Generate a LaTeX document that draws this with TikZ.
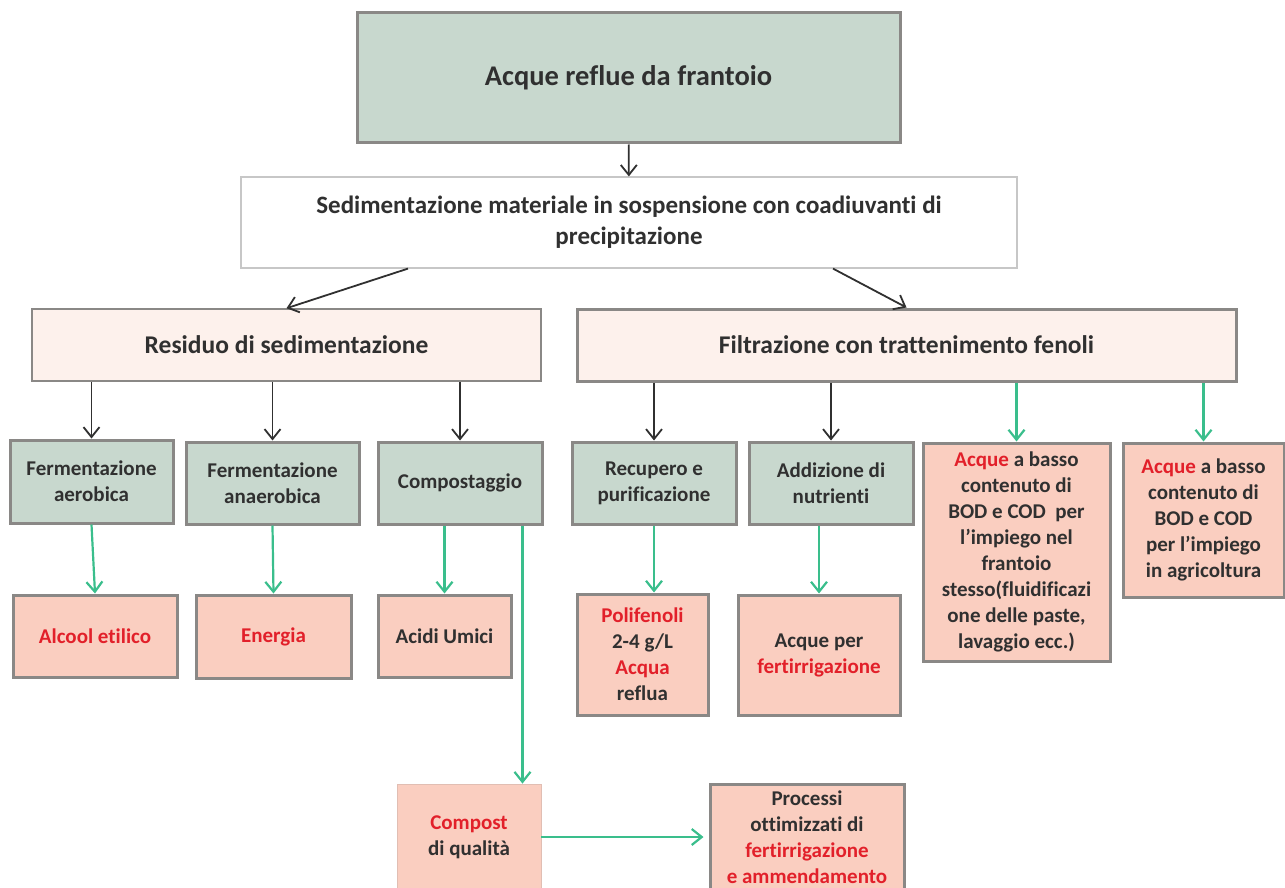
\documentclass[tikz,border=0pt]{standalone}
\usepackage{fontspec}
\setmainfont{Carlito}[Ligatures=NoCommon]
\usepackage{xcolor}
\usetikzlibrary{arrows.meta}

\definecolor{boxgreen}{RGB}{200,216,206}
\definecolor{boxpink}{RGB}{250,206,192}
\definecolor{boxcream}{RGB}{253,241,236}
\definecolor{edgegray}{RGB}{138,136,134}
\definecolor{txtdark}{RGB}{48,48,48}
\definecolor{txtred}{RGB}{226,32,42}
\definecolor{arrgreen}{RGB}{58,190,140}
\newcommand{\rd}[1]{\textcolor{txtred}{#1}}

\begin{document}
\begin{tikzpicture}[x=1pt, y=-1pt,
  every node/.style={inner sep=0pt, align=center, text=txtdark, font=\bfseries\fontsize{21}{26}\selectfont},
  topbox/.style={draw=edgegray, line width=3pt, fill=boxgreen},
  sedbox/.style={draw=black!22, line width=1.2pt, fill=white},
  headbox/.style={draw=edgegray, fill=boxcream, font=\bfseries\fontsize{25.5}{30}\selectfont},
  procbox/.style={draw=edgegray, line width=3pt, fill=boxgreen},
  prodbox/.style={draw=edgegray, line width=3pt, fill=boxpink},
  arr/.style={-{Straight Barb[length=10pt,width=16pt]}, line width=1.8pt, draw=txtdark},
  garr/.style={-{Straight Barb[length=10pt,width=16pt]}, line width=2.2pt, draw=arrgreen}
]
\useasboundingbox (0,0) rectangle (1285,888);
\clip (0,0) rectangle (1285,888);

\node[topbox, minimum width=543pt, minimum height=130pt, font=\bfseries\fontsize{28.5}{34}\selectfont] (top) at (628.5,78) {Acque reflue da frantoio};
\node[sedbox, minimum width=776pt, minimum height=91pt, font=\bfseries\fontsize{25}{31}\selectfont] (sed) at (629,222.5) {Sedimentazione materiale in sospensione con coadiuvanti di\\precipitazione};
\node[headbox, line width=1.5pt, minimum width=509pt, minimum height=72pt] (res) at (286.5,345) {Residuo di sedimentazione};
\node[headbox, line width=3pt, minimum width=659pt, minimum height=72pt] (filt) at (906.5,345) {Filtrazione con trattenimento fenoli};

% processi
\node[procbox, minimum width=163pt, minimum height=83pt] (fa) at (91.5,481.5) {Fermentazione\\aerobica};
\node[procbox, minimum width=173pt, minimum height=82pt] (fan) at (272.5,483) {Fermentazione\\anaerobica};
\node[procbox, minimum width=164pt, minimum height=82pt] (comp) at (460,483) {Compostaggio};
\node[procbox, minimum width=164pt, minimum height=82pt] (rec) at (654,483) {Recupero e\\purificazione};
\node[procbox, minimum width=164pt, minimum height=82pt] (add) at (831,483) {Addizione di\\nutrienti};
\node[prodbox, minimum width=187pt, minimum height=218pt] (acq1) at (1016.5,552) {\rd{Acque} a basso\\contenuto di\\BOD e COD~~per\\l’impiego nel\\frantoio\\stesso(fluidificazi\\one delle paste,\\lavaggio ecc.)};
\node[prodbox, minimum width=161pt, minimum height=154pt] (acq2) at (1203.5,520) {\rd{Acque} a basso\\contenuto di\\BOD e COD\\per l’impiego\\in agricoltura};

% prodotti
\node[prodbox, minimum width=164pt, minimum height=82pt] (alc) at (95,636) {\rd{Alcool etilico}};
\node[prodbox, minimum width=155pt, minimum height=83pt] (ene) at (273.5,636.5) {\rd{Energia}};
\node[prodbox, minimum width=133pt, minimum height=82pt] (aci) at (444.5,636) {Acidi Umici};
\node[prodbox, minimum width=131pt, minimum height=121pt] (poli) at (642.5,654.5) {\rd{Polifenoli}\\2-4 g/L\\\rd{Acqua}\\reflua};
\node[prodbox, minimum width=162pt, minimum height=120pt] (acqper) at (819,655) {Acque per\\\rd{fertirrigazione}};
\node[prodbox, draw=boxpink!80!gray, line width=0.8pt, minimum width=144pt, minimum height=106pt] (compost) at (469,837) {\rd{Compost}\\di qualità};
\node[prodbox, minimum width=194pt, minimum height=106pt] (proc) at (807,837) {Processi\\ottimizzati di\\\rd{fertirrigazione}\\\rd{e ammendamento}};

\draw[arr] (top) -- (sed);
\draw[arr] ([xshift=-221pt]sed.south) -- (res.north);
\draw[arr] ([xshift=204pt]sed.south) -- (filt.north);
\draw[arr] (fa |- res.south) -- (fa.north);
\draw[arr] (fan |- res.south) -- (fan.north);
\draw[arr] (comp |- res.south) -- (comp.north);
\draw[arr] (rec |- filt.south) -- (rec.north);
\draw[arr] (add |- filt.south) -- (add.north);
\draw[garr] (acq1 |- filt.south) -- (acq1.north);
\draw[garr] (acq2 |- filt.south) -- (acq2.north);

\draw[garr] (fa.south) -- (alc.north);
\draw[garr] (fan.south) -- (ene.north);
\draw[garr] (aci |- comp.south) -- (aci.north);
\draw[garr] (rec.south) -- (rec.south |- poli.north);
\draw[garr] (acqper |- add.south) -- (acqper.north);
\draw[garr] ([xshift=-21pt]comp.south east) -- ([xshift=-21pt]comp.south east |- compost.north);
\draw[garr] (compost.east) -- ([xshift=-5pt]proc.west);
\end{tikzpicture}
\end{document}
